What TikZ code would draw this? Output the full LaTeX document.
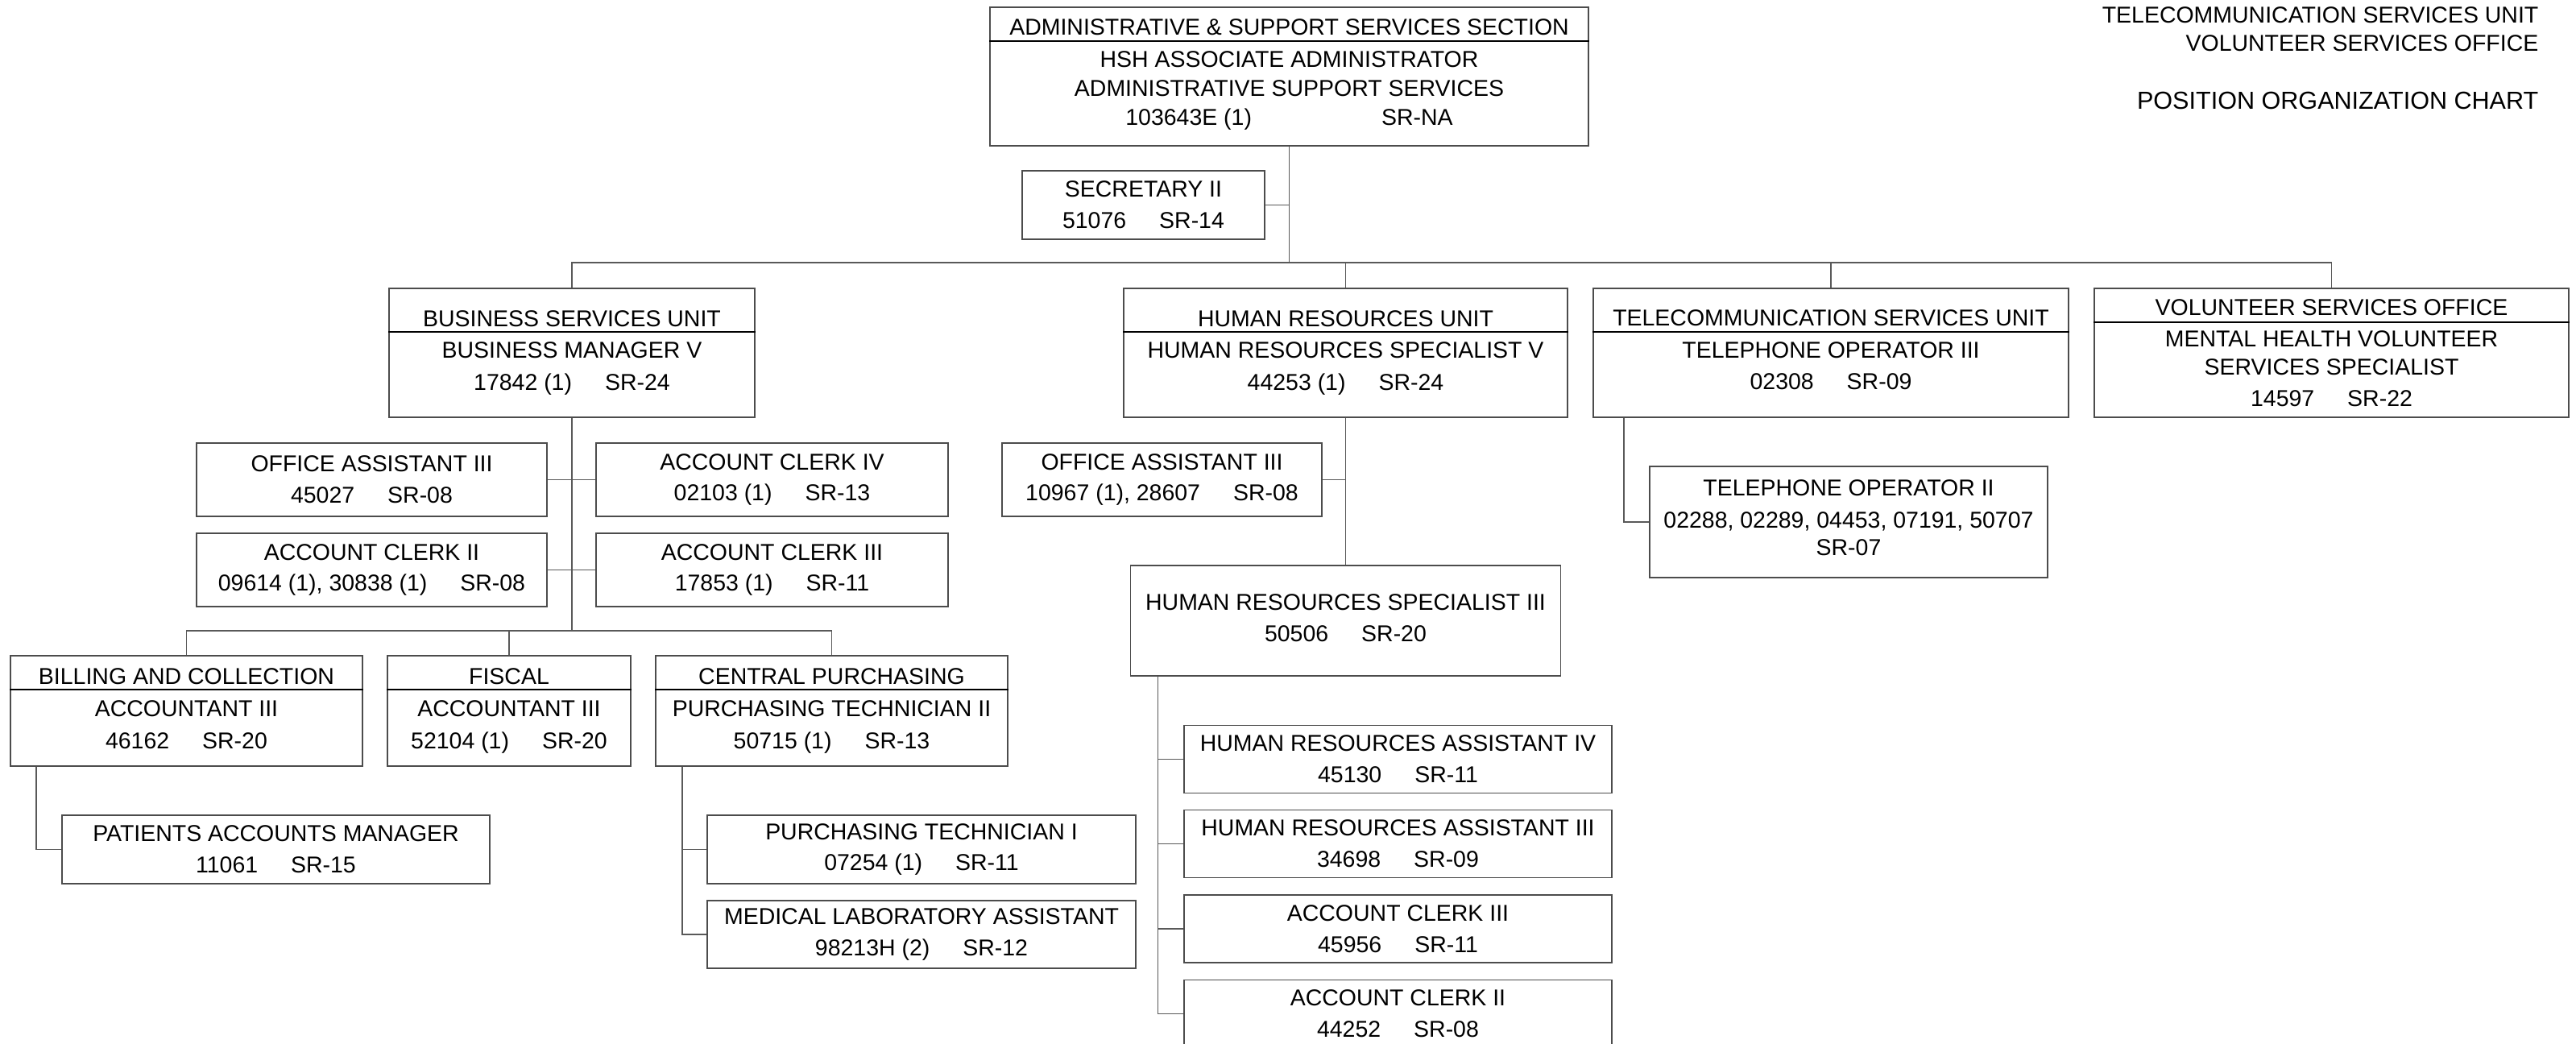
\documentclass[tikz,border=0pt]{standalone}
\usepackage{fontspec}
\setmainfont{Liberation Sans}

\newcommand{\gap}{\hspace{0.41cm}}
\newcommand{\lift}[1]{\rule[-#1]{0pt}{0pt}}

\begin{document}
\begin{tikzpicture}[
  box/.style={draw=black!70, line width=0.5pt, align=center, inner sep=0pt,
    font=\fontsize{8.1}{11}\selectfont},
  unit/.style={box, font=\fontsize{8.1}{11.3}\selectfont},
  link/.style={draw=black!65, line width=0.45pt},
  rule/.style={draw=black, line width=0.55pt},
  title/.style={anchor=base east, inner sep=0pt}]
\useasboundingbox (0,0) rectangle (31.98,-12.96);

% heading at the right
\node[title, font=\fontsize{8.1}{9}\selectfont] (ttl1) at (31.52,-0.29) {TELECOMMUNICATION SERVICES UNIT};
\node[title, font=\fontsize{8.1}{9}\selectfont] (ttl2) at (31.52,-0.63) {VOLUNTEER SERVICES OFFICE};
\node[title, font=\fontsize{8.7}{10}\selectfont] (ttl3) at (31.52,-1.35) {POSITION ORGANIZATION CHART};

% section
\node[unit, minimum width=7.43cm, minimum height=1.72cm] (adm) at (16.005,-0.95)
  {ADMINISTRATIVE \& SUPPORT SERVICES SECTION\\[0.3pt]
   HSH ASSOCIATE ADMINISTRATOR\\[-1.1pt]
   ADMINISTRATIVE SUPPORT SERVICES\\[-1.1pt]
   103643E (1)\hspace{1.61cm}SR-NA\lift{3.2pt}};
\node[box, minimum width=3.01cm, minimum height=0.85cm] (sec) at (14.195,-2.545)
  {SECRETARY II\\51076\gap SR-14};

% units
\node[unit, minimum width=4.54cm, minimum height=1.60cm] (bsu) at (7.10,-4.38)
  {BUSINESS SERVICES UNIT\\BUSINESS MANAGER V\\17842 (1)\gap SR-24};
\node[unit, minimum width=5.51cm, minimum height=1.60cm] (hru) at (16.705,-4.38)
  {HUMAN RESOURCES UNIT\\HUMAN RESOURCES SPECIALIST V\\44253 (1)\gap SR-24};
\node[unit, minimum width=5.90cm, minimum height=1.60cm] (tsu) at (22.73,-4.38)
  {TELECOMMUNICATION SERVICES UNIT\\TELEPHONE OPERATOR III\\02308\gap SR-09\lift{2.2pt}};
\node[box, minimum width=5.89cm, minimum height=1.60cm] (vso) at (28.945,-4.38)
  {VOLUNTEER SERVICES OFFICE\\MENTAL HEALTH VOLUNTEER\\[-1pt]SERVICES SPECIALIST\\14597\gap SR-22};

% business services unit
\node[box, minimum width=4.35cm, minimum height=0.91cm] (oa1) at (4.615,-5.955)
  {OFFICE ASSISTANT III\\45027\gap SR-08};
\node[box, minimum width=4.37cm, minimum height=0.91cm] (ac4) at (9.585,-5.955)
  {ACCOUNT CLERK IV\\02103 (1)\gap SR-13};
\node[box, minimum width=4.35cm, minimum height=0.91cm] (ac2) at (4.615,-7.075)
  {ACCOUNT CLERK II\\09614 (1), 30838 (1)\gap SR-08};
\node[box, minimum width=4.37cm, minimum height=0.91cm] (ac3) at (9.585,-7.075)
  {ACCOUNT CLERK III\\17853 (1)\gap SR-11};
\node[unit, minimum width=4.37cm, minimum height=1.37cm] (bac) at (2.315,-8.825)
  {BILLING AND COLLECTION\\ACCOUNTANT III\\46162\gap SR-20\lift{1.8pt}};
\node[unit, minimum width=3.02cm, minimum height=1.37cm] (fis) at (6.32,-8.825)
  {FISCAL\\ACCOUNTANT III\\52104 (1)\gap SR-20};
\node[unit, minimum width=4.37cm, minimum height=1.37cm] (cpu) at (10.325,-8.825)
  {CENTRAL PURCHASING\\PURCHASING TECHNICIAN II\\50715 (1)\gap SR-13};
\node[box, minimum width=5.31cm, minimum height=0.85cm] (pam) at (3.425,-10.545)
  {PATIENTS ACCOUNTS MANAGER\\11061\gap SR-15};
\node[box, minimum width=5.32cm, minimum height=0.85cm] (pt1) at (11.44,-10.545)
  {PURCHASING TECHNICIAN I\\07254 (1)\gap SR-11};
\node[box, minimum width=5.32cm, minimum height=0.84cm] (mla) at (11.44,-11.60)
  {MEDICAL LABORATORY ASSISTANT\\98213H (2)\gap SR-12};

% human resources unit
\node[box, minimum width=3.97cm, minimum height=0.91cm] (oa2) at (14.425,-5.955)
  {OFFICE ASSISTANT III\\10967 (1), 28607\gap SR-08};
\node[box, minimum width=5.34cm, minimum height=1.37cm] (hs3) at (16.705,-7.705)
  {HUMAN RESOURCES SPECIALIST III\\50506\gap SR-20\lift{2pt}};
\node[box, minimum width=5.31cm, minimum height=0.84cm] (ha4) at (17.355,-9.425)
  {HUMAN RESOURCES ASSISTANT IV\\45130\gap SR-11};
\node[box, minimum width=5.31cm, minimum height=0.84cm] (ha3) at (17.355,-10.475)
  {HUMAN RESOURCES ASSISTANT III\\34698\gap SR-09};
\node[box, minimum width=5.31cm, minimum height=0.84cm] (ac3h) at (17.355,-11.53)
  {ACCOUNT CLERK III\\45956\gap SR-11};
\node[box, minimum width=5.31cm, minimum height=0.84cm] (ac2h) at (17.355,-12.585)
  {ACCOUNT CLERK II\\44252\gap SR-08};

% telecommunication services unit
\node[unit, minimum width=4.94cm, minimum height=1.38cm] (to2) at (22.95,-6.48)
  {TELEPHONE OPERATOR II\\02288, 02289, 04453, 07191, 50707\\[-1.8pt]SR-07\lift{3.1pt}};

% title rules
\foreach \n/\d in {adm/-0.43cm, bsu/-0.55cm, hru/-0.55cm, tsu/-0.55cm, vso/-0.43cm,
                   bac/-0.43cm, fis/-0.43cm, cpu/-0.43cm}
  \draw[rule] ([yshift=\d]\n.north west) -- ([yshift=\d]\n.north east);

% connectors
\coordinate (topbus) at (16.005,-3.26);
\draw[link] (adm.south) -- (topbus);
\draw[link] (sec.east) -- (sec.east -| adm.south);
\draw[link] (bsu.north) |- (topbus) -| (vso.north);
\draw[link] (hru.north) -- (hru.north |- topbus);
\draw[link] (tsu.north) -- (tsu.north |- topbus);

\coordinate (bsubus) at (7.10,-7.83);
\draw[link] (bsu.south) -- (bsubus);
\draw[link] (oa1.east) -- (ac4.west);
\draw[link] (ac2.east) -- (ac3.west);
\draw[link] (bac.north) |- (bsubus) -| (cpu.north);
\draw[link] (fis.north) -- (fis.north |- bsubus);
\draw[link] ([xshift=0.33cm]bac.south west) |- (pam.west);
\draw[link] ([xshift=0.34cm]cpu.south west) |- (pt1.west);
\draw[link] ([xshift=0.34cm]cpu.south west) |- (mla.west);

\draw[link] (hru.south) -- (hs3.north);
\draw[link] (oa2.east) -- (oa2.east -| hru.south);
\foreach \n in {ha4,ha3,ac3h,ac2h}
  \draw[link] ([xshift=0.35cm]hs3.south west) |- (\n.west);

\draw[link] ([xshift=0.39cm]tsu.south west) |- (to2.west);
\end{tikzpicture}
\end{document}
